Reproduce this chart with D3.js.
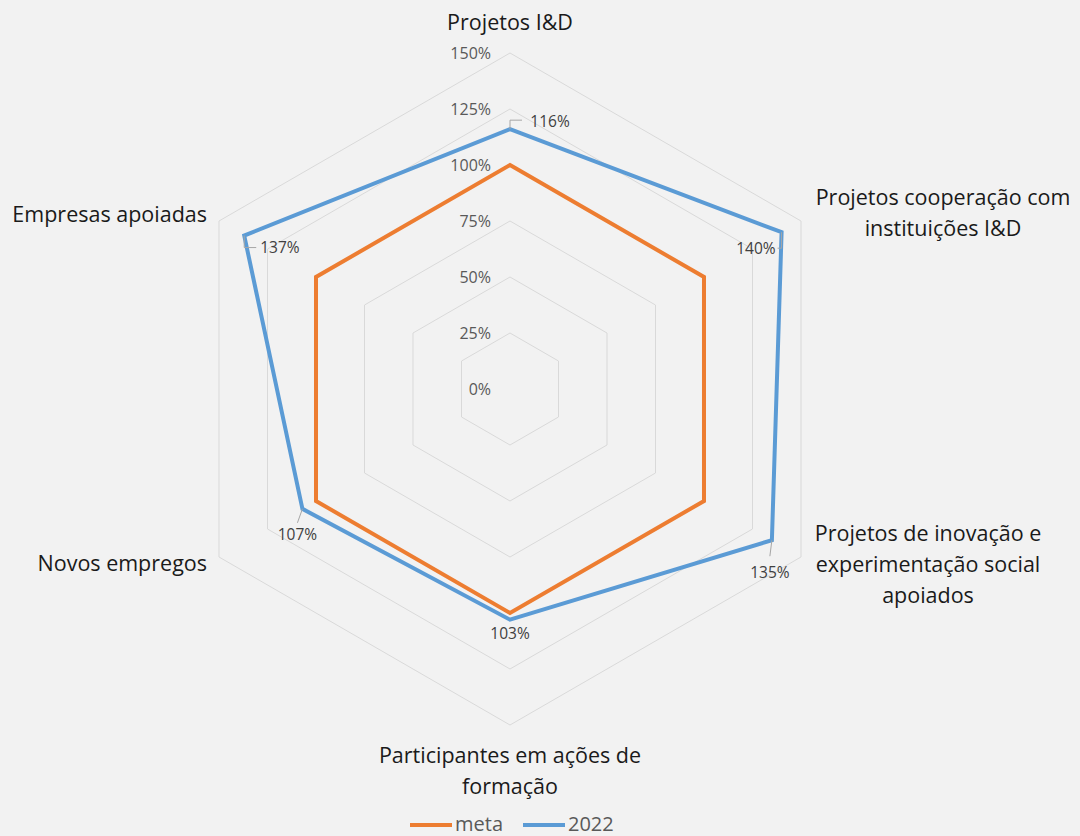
<!DOCTYPE html>
<html>
<head>
<meta charset="utf-8">
<script src="https://cdn.jsdelivr.net/npm/d3@7"></script>
<style>
  html, body { margin: 0; padding: 0; background: #f2f2f2; }
  svg { display: block; font-family: "Open Sans", "Noto Sans", sans-serif; }
</style>
</head>
<body>
<div id="chart"></div>
<script>
// Data
const categories = [
  "Projetos I&D",
  "Projetos cooperação com instituições I&D",
  "Projetos de inovação e experimentação social apoiados",
  "Participantes em ações de formação",
  "Novos empregos",
  "Empresas apoiadas"
];
const metaValues = [100, 100, 100, 100, 100, 100];
const values2022 = [116, 140, 135, 103, 107, 137];
const tickValues = [0, 25, 50, 75, 100, 125, 150];
const seriesNames = ["meta", "2022"];

// Label lines (wrapping as in the reference)
const labelLines = [
  ["Projetos I&D"],
  ["Projetos cooperação com", "instituições I&D"],
  ["Projetos de inovação e", "experimentação social", "apoiados"],
  ["Participantes em ações de", "formação"],
  ["Novos empregos"],
  ["Empresas apoiadas"]
];

const width = 1080, height = 836;
const cx = 510, cy = 389;
const colors = { meta: "#ED7D31", y2022: "#5B9BD5" };

const svg = d3.select("#chart").append("svg")
    .attr("width", width)
    .attr("height", height);

svg.append("rect").attr("width", width).attr("height", height).attr("fill", "#f2f2f2");

const g = svg.append("g").attr("transform", "translate(" + cx + "," + cy + ")");

const r = d3.scaleLinear().domain([0, 150]).range([0, 336]);
const angle = d3.scalePoint().domain(d3.range(categories.length)).range([0, 2 * Math.PI * 5 / 6]);

const pt = (i, v) => [r(v) * Math.sin(angle(i)), -r(v) * Math.cos(angle(i))];

// Grid rings
tickValues.filter(t => t > 0).forEach(t => {
  g.append("path")
      .attr("d", d3.line()(categories.map((c, i) => pt(i, t))) + "Z")
      .attr("fill", "none")
      .attr("stroke", "#d9d9d9")
      .attr("stroke-width", 1);
});

// Tick labels
g.selectAll(".tick")
    .data(tickValues)
  .enter().append("text")
    .attr("class", "tick")
    .attr("x", -19)
    .attr("y", d => -r(d))
    .attr("dy", "0.35em")
    .attr("text-anchor", "end")
    .attr("font-size", "16px")
    .attr("fill", "#595959")
    .text(d => d + "%");

// Series lines
const radarLine = d3.lineRadial()
    .angle((d, i) => angle(i))
    .radius(d => r(d))
    .curve(d3.curveLinearClosed);

g.append("path")
    .datum(metaValues)
    .attr("d", radarLine)
    .attr("fill", "none")
    .attr("stroke", colors.meta)
    .attr("stroke-width", 4)
    .attr("stroke-linejoin", "miter");

g.append("path")
    .datum(values2022)
    .attr("d", radarLine)
    .attr("fill", "none")
    .attr("stroke", colors.y2022)
    .attr("stroke-width", 4)
    .attr("stroke-linejoin", "miter");

// Data labels for 2022 (offsets from point, with small leader lines)
const labelOffsets = [
  { dx: 40, dy: -8, anchor: "middle", leader: [[0, 0], [0, -9], [12, -9]] },
  { dx: -6, dy: 16, anchor: "end", leader: [[0, 0], [0, 16], [-4, 16]] },
  { dx: -2, dy: 32, anchor: "middle", leader: [[0, 0], [-2, 16]] },
  { dx: 0, dy: 14, anchor: "middle", leader: null },
  { dx: -5, dy: 26, anchor: "middle", leader: [[0, 0], [-5, 14]] },
  { dx: 16, dy: 12, anchor: "start", leader: [[0, 0], [0, 12], [12, 12]] }
];

values2022.forEach((v, i) => {
  const [x, y] = pt(i, v);
  const o = labelOffsets[i];
  if (o.leader) {
    g.append("path")
        .attr("d", d3.line()(o.leader.map(p => [x + p[0], y + p[1]])))
        .attr("fill", "none")
        .attr("stroke", "#a6a6a6")
        .attr("stroke-width", 1);
  }
  g.append("text")
      .attr("x", x + o.dx)
      .attr("y", y + o.dy)
      .attr("dy", "0.35em")
      .attr("text-anchor", o.anchor)
      .attr("font-size", "15.5px")
      .attr("fill", "#404040")
      .text(v + "%");
});

// Category labels
const catPos = [
  { x: 510, y: 22, anchor: "middle" },
  { x: 943, y: 197, anchor: "middle" },
  { x: 928, y: 533, anchor: "middle" },
  { x: 510, y: 755, anchor: "middle" },
  { x: 207, y: 563, anchor: "end" },
  { x: 207, y: 214, anchor: "end" }
];

labelLines.forEach((lines, i) => {
  const t = svg.append("text")
      .attr("text-anchor", catPos[i].anchor)
      .attr("font-size", "21.5px")
      .attr("fill", "#1a1a1a");
  lines.forEach((line, j) => {
    t.append("tspan")
        .attr("x", catPos[i].x)
        .attr("y", catPos[i].y + j * 31)
        .attr("dy", "0.35em")
        .text(line);
  });
});

// Legend
const legend = svg.append("g").attr("transform", "translate(410,824)");
const legendItems = [
  { name: seriesNames[0], color: colors.meta, x: 0 },
  { name: seriesNames[1], color: colors.y2022, x: 113 }
];
legendItems.forEach(d => {
  legend.append("line")
      .attr("x1", d.x).attr("x2", d.x + 42)
      .attr("y1", 1).attr("y2", 1)
      .attr("stroke", d.color)
      .attr("stroke-width", 4);
  legend.append("text")
      .attr("x", d.x + 45)
      .attr("y", 0)
      .attr("dy", "0.35em")
      .attr("font-size", "20px")
      .attr("fill", "#595959")
      .text(d.name);
});
</script>
</body>
</html>
